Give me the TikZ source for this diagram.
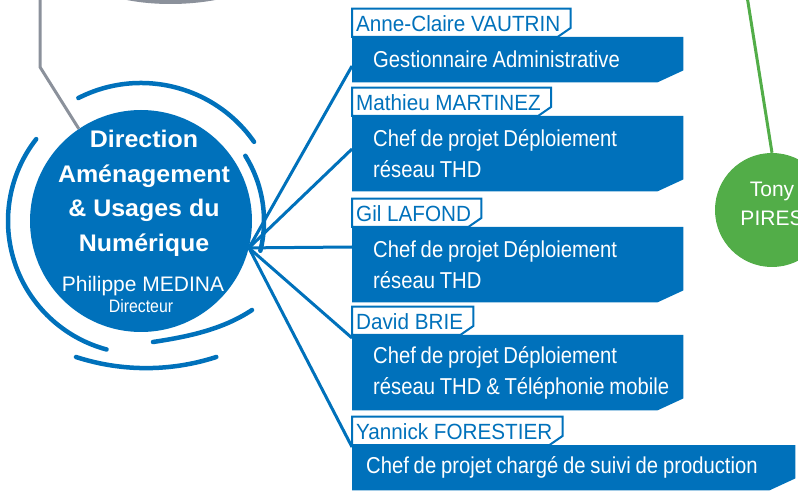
\documentclass[tikz,border=0pt]{standalone}
\usepackage{fontspec}
\setmainfont{Liberation Sans}
\newfontfamily\dirfont[FakeStretch=1.04]{Liberation Sans}
\newfontfamily\condfont[FakeStretch=0.88]{Liberation Sans}
\newfontfamily\namefont[FakeStretch=0.94]{Liberation Sans}
\usetikzlibrary{backgrounds}
\definecolor{dirblue}{HTML}{0071BB}
\definecolor{agentgreen}{HTML}{52AD48}
\definecolor{linkgray}{HTML}{8B919B}
\tikzset{
    dir-circle/.style = {circle, fill=dirblue, minimum size=222pt, inner sep=0pt},
    dir-title/.style = {text=white, align=center, inner sep=0pt, font=\dirfont\bfseries\fontsize{24}{34.5}\selectfont},
    dir-name/.style = {text=white, inner sep=0pt, font=\fontsize{21}{21}\selectfont},
    dir-role/.style = {text=white, inner sep=0pt, font=\condfont\fontsize{18}{18}\selectfont},
    ring/.style = {draw=dirblue, line width=4.5pt, line cap=round},
    link/.style = {draw=dirblue, line width=3pt},
    post-box/.style = {anchor=north west, inner xsep=21pt, inner ysep=0pt, text width=289pt, minimum height=75pt, align=left, text=white, font=\condfont\fontsize{23}{31}\selectfont,
        execute at begin node={\spaceskip=4.8pt\relax\hyphenpenalty=10000\relax}},
    name-label/.style = {anchor=south west, inner xsep=4pt, inner ysep=5pt, text height=18pt, text depth=0pt, text=dirblue, font=\namefont\fontsize{22}{22}\selectfont},
    agent-circle/.style = {circle, fill=agentgreen, minimum size=114pt, inner sep=0pt, align=center, text=white, text depth=12pt, font=\fontsize{21}{29}\selectfont},
}

\begin{document}
\begin{tikzpicture}[x=1pt, y=-1pt]
\useasboundingbox (0,0) rectangle (798,494);
\clip (0,0) rectangle (798,494);
% direction
\node[dir-circle] (dir) at (141,221) {};
\node[dir-title, anchor=north] (dirtitle) at (144,130) {Direction\\Aménagement\\\& Usages du\\Numérique};
\node[dir-name, anchor=base] (dirname) at (143,292) {Philippe MEDINA};
\node[dir-role, anchor=base] (dirrole) at (141,313) {Directeur};
% rings
\draw[ring] (dir.center) ++(35:138pt) arc[start angle=35, end angle=117, radius=138pt];
\draw[ring] (dir.center) ++(32:123pt) arc[start angle=32, end angle=-14, radius=123pt];
\draw[ring] (dir.center) ++(142:133pt) arc[start angle=142, end angle=255, radius=133pt];
\draw[ring] (76,357) arc[start angle=-108, end angle=-72, radius=227pt];
\draw[ring] (153,342) .. controls (186,337) and (222,330) .. (252,310);
% upper level
\coordinate (graytop) at (40,-4);
\draw[line width=3pt, linkgray] (graytop) -- (40,67) -- (dir.124);
\draw[line width=4pt, linkgray] (118,-4) .. controls (150,4) and (190,4) .. (225,-4);
% posts
\node[post-box, minimum height=45pt] (box1) at (352,37) {Gestionnaire Administrative};
\node[post-box] (box2) at (352,116) {Chef de projet Déploiement\\réseau THD};
\node[post-box] (box3) at (352,227) {Chef de projet Déploiement\\réseau THD};
\node[post-box] (box4) at (352,335) {Chef de projet Déploiement\\\mbox{réseau THD \& Téléphonie mobile}};
\node[post-box, minimum height=45pt, inner xsep=14pt, text width=415pt] (box5) at (352,445) {Chef de projet chargé de suivi de production};
\node[name-label] (lab1) at (box1.north west) {Anne-Claire VAUTRIN};
\node[name-label] (lab2) at (box2.north west) {Mathieu MARTINEZ};
\node[name-label] (lab3) at (box3.north west) {Gil LAFOND};
\node[name-label] (lab4) at (box4.north west) {David BRIE};
\node[name-label] (lab5) at (box5.north west) {Yannick FORESTIER};
\begin{scope}[on background layer]
\foreach \b in {box1,box2,box3,box4,box5}
    \fill[dirblue] (\b.north west) -- (\b.north east) -- ([yshift=12pt]\b.south east) -- ([xshift=-26pt]\b.south east) -- (\b.south west) -- cycle;
\foreach \l in {lab1,lab2,lab3,lab4,lab5}
    \filldraw[fill=white, draw=dirblue, line width=2pt] (\l.south west) -- (\l.north west) -- ([xshift=6pt]\l.north east) -- ([xshift=6pt, yshift=9pt]\l.south east) -- ([xshift=-7pt]\l.south east) -- cycle;
\end{scope}
% links
\foreach \b/\d in {box1/29,box2/33,box3/20,box4/3,box5/2}
    \draw[link] (dir.-14) -- ([yshift=-\d pt]\b.north west);
% agent
\node[agent-circle] (tony) at (772,210) {Tony\\PIRES};
\coordinate (tonytop) at (747,-4);
\draw[line width=3pt, agentgreen] (tonytop) -- (tony.north);
\end{tikzpicture}
\end{document}
